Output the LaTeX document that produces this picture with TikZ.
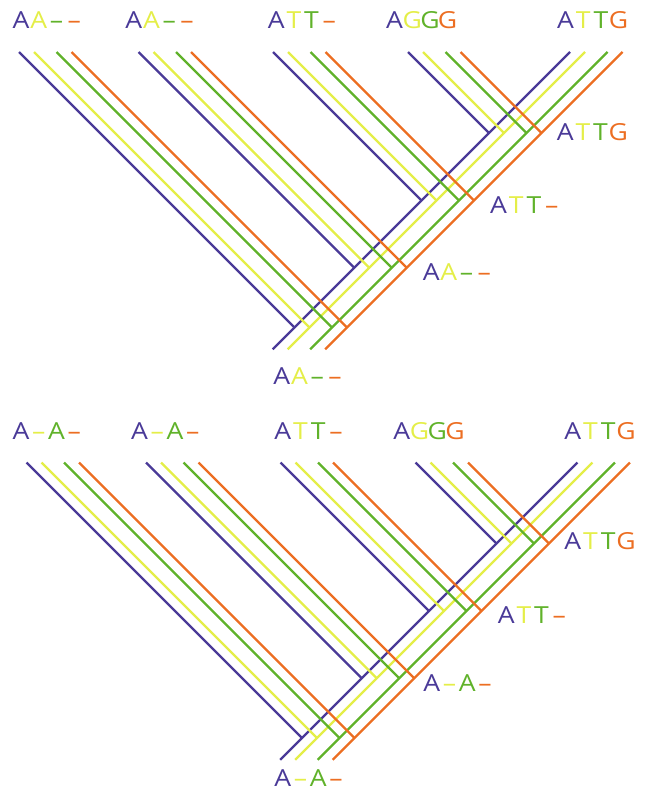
\documentclass[tikz,border=0pt]{standalone}
\usepackage{graphicx}
\usepackage{fontspec}
\setmainfont{Open Sans}
\definecolor{cA}{RGB}{74,58,152}
\definecolor{cB}{RGB}{228,238,72}
\definecolor{cC}{RGB}{96,178,42}
\definecolor{cD}{RGB}{236,110,34}
\newcommand{\chbox}[2]{\makebox[17.7pt]{\color{#1}\scalebox{1.13}[1]{#2}}}
\newcommand{\seqlab}[4]{\chbox{cA}{#1}\chbox{cB}{#2}\chbox{cC}{#3}\chbox{cD}{#4}}
\tikzset{
  lab/.style={anchor=base west, inner sep=0pt, outer sep=0pt, font=\fontsize{23.5}{23.5}\selectfont},
  wire/.style={line width=2.2pt}
}
\newcommand{\treepanel}[1]{%
  \begin{scope}[shift={#1}]
    \foreach \o/\c in {0/cA,15/cB,37.5/cC,52.5/cD} {
      \coordinate (sb-\c) at (272.7+\o,349.3);
      \coordinate (st-\c) at (570+\o,52);
      \draw[wire,\c] (sb-\c) -- (st-\c);
    }
    \foreach \xo [count=\i] in {19,138.5,273,408} {
      \pgfmathsetmacro\yj{(674-\xo)/2}
      \foreach \o/\c in {0/cA,15/cB,37.5/cC,52.5/cD} {
        \coordinate (lt-\i-\c) at (\xo+\o,52);
        \coordinate (lj-\i-\c) at (\xo+\o+\yj-52,\yj);
        \draw[wire,\c] (lt-\i-\c) -- (lj-\i-\c);
      }
    }
  \end{scope}}
\begin{document}
\begin{tikzpicture}[x=1pt,y=-1pt]
\useasboundingbox (0,0) rectangle (645,793);
\treepanel{(0,0)}
\treepanel{(7.5,410.5)}
% top panel labels
\node[lab] (a1) at (12.3,28.2) {\seqlab{A}{A}{–}{–}};
\node[lab] (a2) at (125,28.2) {\seqlab{A}{A}{–}{–}};
\node[lab] (a3) at (267.3,28.2) {\seqlab{A}{T}{T}{–}};
\node[lab] (a4) at (385.7,28.2) {\seqlab{A}{G}{G}{G}};
\node[lab] (a5) at (556.7,28.2) {\seqlab{A}{T}{T}{G}};
\node[lab] (a6) at (556.3,140.5) {\seqlab{A}{T}{T}{G}};
\node[lab] (a7) at (489.7,213.2) {\seqlab{A}{T}{T}{–}};
\node[lab] (a8) at (422.3,280.5) {\seqlab{A}{A}{–}{–}};
\node[lab] (a9) at (273,384.9) {\seqlab{A}{A}{–}{–}};
% bottom panel labels
\node[lab] (b1) at (12.3,439.9) {\seqlab{A}{–}{A}{–}};
\node[lab] (b2) at (130.7,439.9) {\seqlab{A}{–}{A}{–}};
\node[lab] (b3) at (274,439.9) {\seqlab{A}{T}{T}{–}};
\node[lab] (b4) at (393,439.9) {\seqlab{A}{G}{G}{G}};
\node[lab] (b5) at (564,439.9) {\seqlab{A}{T}{T}{G}};
\node[lab] (b6) at (564,549.9) {\seqlab{A}{T}{T}{G}};
\node[lab] (b7) at (497.3,623.2) {\seqlab{A}{T}{T}{–}};
\node[lab] (b8) at (423,691.5) {\seqlab{A}{–}{A}{–}};
\node[lab] (b9) at (274,786.5) {\seqlab{A}{–}{A}{–}};
\end{tikzpicture}
\end{document}
